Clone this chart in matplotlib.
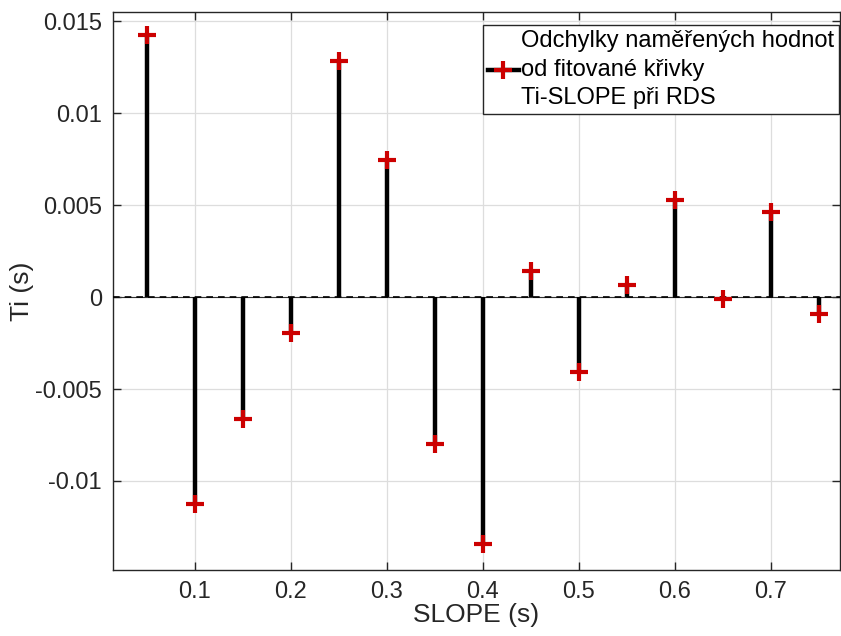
import matplotlib
matplotlib.use("Agg")
import matplotlib.pyplot as plt
from matplotlib.lines import Line2D

plt.rcParams['font.family'] = ['Liberation Sans', 'DejaVu Sans']

slope = [0.05, 0.10, 0.15, 0.20, 0.25, 0.30, 0.35, 0.40, 0.45, 0.50, 0.55, 0.60, 0.65, 0.70, 0.75]
resid = [0.01424, -0.01125, -0.00663, -0.00196, 0.01283, 0.00745, -0.00799, -0.01342,
         0.00141, -0.00408, 0.00065, 0.00527, -0.00010, 0.00462, -0.00092]
xticks = [0.1, 0.2, 0.3, 0.4, 0.5, 0.6, 0.7]
yticks = [-0.01, -0.005, 0, 0.005, 0.01, 0.015]
yticklabels = ['-0.01', '-0.005', '0', '0.005', '0.01', '0.015']
legend_text = "Odchylky naměřených hodnot\nod fitované křivky\nTi-SLOPE při RDS"

fig = plt.figure(figsize=(8.41, 6.36), dpi=100)
ax = fig.add_axes([113/841, 66/636, 727/841, 558/636])

ax.axhline(0, color='#333333', lw=0.8, zorder=2)
ax.axhline(0, color='black', lw=1.2, ls=(0, (4, 3)), zorder=3)
ax.vlines(slope, 0, resid, color='black', lw=3.2, zorder=4)
ax.plot(slope, resid, ls='none', marker='+', ms=13, mew=3, color='#cc0000', zorder=5)

ax.set_xlim(0.0146, 0.7719)
ax.set_ylim(-0.01484, 0.0155)
ax.set_xticks(xticks)
ax.set_xticklabels([str(t) for t in xticks])
ax.set_yticks(yticks)
ax.set_yticklabels(yticklabels)
ax.grid(True, color='#dddddd', lw=0.9)
ax.set_axisbelow(True)
ax.tick_params(direction='in', length=6, top=True, right=True, labelsize=17, colors='#262626', width=1.0, pad=8)
for s in ax.spines.values():
    s.set_color('#262626')
    s.set_linewidth(1.0)

ax.set_xlabel('SLOPE (s)', fontsize=19, color='#262626', labelpad=0)
ax.set_ylabel('Ti (s)', fontsize=19, color='#262626', labelpad=1)

handle = Line2D([0, 1], [0, 0], color='black', lw=3.2)
marker_h = Line2D([], [], ls='none', marker='+', ms=13, mew=3, color='#cc0000')
leg = ax.legend([(handle, marker_h)], [legend_text], loc='upper right', fontsize=17,
                bbox_to_anchor=(839/841, 1 - 25/636), bbox_transform=fig.transFigure,
                frameon=True, fancybox=False, edgecolor='#262626', framealpha=1,
                handlelength=1.3, handletextpad=0.1, borderpad=0.2, borderaxespad=0,
                labelspacing=0.2)
leg.get_frame().set_linewidth(1.0)
for t in leg.get_texts():
    t.set_linespacing(1.4)

fig.savefig('out.png', dpi=100)
